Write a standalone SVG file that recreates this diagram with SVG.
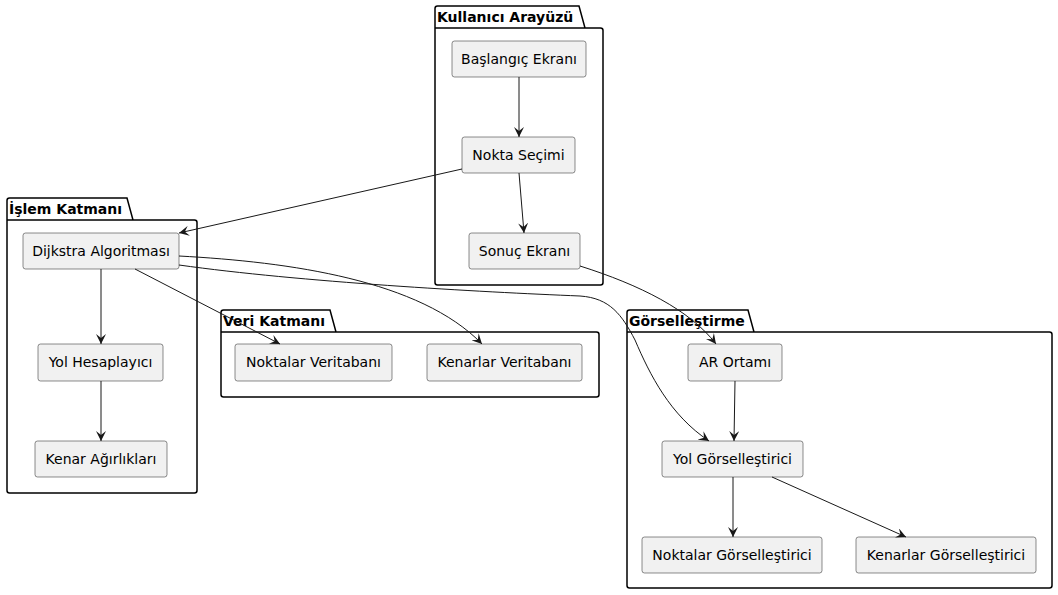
<svg xmlns="http://www.w3.org/2000/svg" width="1058" height="595" viewBox="0 0 1058 595">
<defs>
<style>
.pkg{fill:none;stroke:#000;stroke-width:1.5}
.ptitle{font-family:"DejaVu Sans",sans-serif;font-size:14px;font-weight:bold;fill:#000}
.node rect{fill:#F1F1F1;stroke:#181818;stroke-width:0.5}
.node text{font-family:"DejaVu Sans",sans-serif;font-size:14px;fill:#000;text-anchor:middle}
.edge{fill:none;stroke:#181818;stroke-width:1;marker-end:url(#arr)}
</style>
<marker id="arr" viewBox="0 0 10 10" refX="10" refY="5" markerWidth="10" markerHeight="10" markerUnits="userSpaceOnUse" orient="auto">
<path d="M0,0 L10,5 L0,10 L4,5 Z" fill="#181818"/>
</marker>
</defs>
<rect width="1058" height="595" fill="#fff"/>

<g id="pkg-kullanici">
<path class="pkg" d="M435,28 L435,8.5 Q435,6 437.5,6 L579,6 L585,28 L600.5,28 Q603,28 603,30.5 L603,282.5 Q603,285 600.5,285 L437.5,285 Q435,285 435,282.5 Z M435,28 L585,28"/>
<text class="ptitle" x="437" y="22">Kullanıcı Arayüzü</text>
</g>
<g id="pkg-islem">
<path class="pkg" d="M7,220 L7,200.5 Q7,198 9.5,198 L127,198 L133,220 L194.5,220 Q197,220 197,222.5 L197,490.5 Q197,493 194.5,493 L9.5,493 Q7,493 7,490.5 Z M7,220 L133,220"/>
<text class="ptitle" x="9" y="214">İşlem Katmanı</text>
</g>
<g id="pkg-veri">
<path class="pkg" d="M221,332 L221,312.5 Q221,310 223.5,310 L330,310 L336,332 L596.5,332 Q599,332 599,334.5 L599,394.5 Q599,397 596.5,397 L223.5,397 Q221,397 221,394.5 Z M221,332 L336,332"/>
<text class="ptitle" x="223" y="326">Veri Katmanı</text>
</g>
<g id="pkg-gorsel">
<path class="pkg" d="M627,332 L627,312.5 Q627,310 629.5,310 L748,310 L754,332 L1049.5,332 Q1052,332 1052,334.5 L1052,585.5 Q1052,588 1049.5,588 L629.5,588 Q627,588 627,585.5 Z M627,332 L754,332"/>
<text class="ptitle" x="629" y="326">Görselleştirme</text>
</g>

<g id="n-baslangic" class="node"><rect x="452" y="41" width="134" height="36" rx="2.5"/><text x="519" y="64">Başlangıç Ekranı</text></g>
<g id="n-nokta" class="node"><rect x="462" y="137" width="113" height="36" rx="2.5"/><text x="518.5" y="160">Nokta Seçimi</text></g>
<g id="n-sonuc" class="node"><rect x="469" y="233" width="111" height="36" rx="2.5"/><text x="524.5" y="256">Sonuç Ekranı</text></g>
<g id="n-dijkstra" class="node"><rect x="23" y="233" width="156" height="36" rx="2.5"/><text x="101" y="256">Dijkstra Algoritması</text></g>
<g id="n-yolhesap" class="node"><rect x="38" y="344" width="125" height="37" rx="2.5"/><text x="100.5" y="367">Yol Hesaplayıcı</text></g>
<g id="n-kenaragirlik" class="node"><rect x="35" y="441" width="132" height="36" rx="2.5"/><text x="101" y="464">Kenar Ağırlıkları</text></g>
<g id="n-noktalarveri" class="node"><rect x="235" y="344" width="157" height="37" rx="2.5"/><text x="313.5" y="367">Noktalar Veritabanı</text></g>
<g id="n-kenarlarveri" class="node"><rect x="427" y="344" width="155" height="37" rx="2.5"/><text x="504.5" y="367">Kenarlar Veritabanı</text></g>
<g id="n-ar" class="node"><rect x="688" y="344" width="94" height="37" rx="2.5"/><text x="735" y="367">AR Ortamı</text></g>
<g id="n-yolgorsel" class="node"><rect x="662" y="441" width="141" height="36" rx="2.5"/><text x="732.5" y="464">Yol Görselleştirici</text></g>
<g id="n-noktalargorsel" class="node"><rect x="642" y="537" width="180" height="36" rx="2.5"/><text x="732" y="560">Noktalar Görselleştirici</text></g>
<g id="n-kenarlargorsel" class="node"><rect x="856" y="537" width="180" height="36" rx="2.5"/><text x="946" y="560">Kenarlar Görselleştirici</text></g>

<g id="connectors">
<path class="edge" d="M519,77 L519,137"/>
<path class="edge" d="M519,173 L524,233"/>
<path class="edge" d="M462,169 L179,233"/>
<path class="edge" d="M101,269 L101,344"/>
<path class="edge" d="M101,381 L101,441"/>
<path class="edge" d="M135,269 L280,344"/>
<path class="edge" d="M179,256 C290,262 420,280 482,344"/>
<path class="edge" d="M179,265 C300,282 480,292 580,296 C610,298 622,315 635,340 C650,375 670,415 709,441"/>
<path class="edge" d="M580,266 C640,285 690,310 716,344"/>
<path class="edge" d="M735,381 L734,441"/>
<path class="edge" d="M733,477 L733,537"/>
<path class="edge" d="M772,477 L906,537"/>
</g>
</svg>
